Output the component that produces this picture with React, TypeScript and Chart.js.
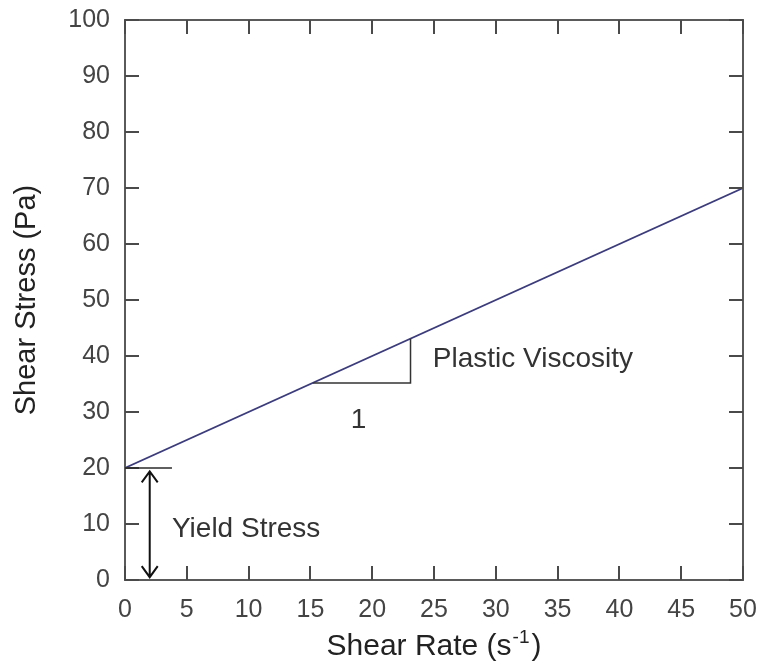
import React, { useEffect, useRef } from "react";
import { Chart, registerables } from "chart.js";

Chart.register(...registerables);

// ---- data ----
const shearRate = [0, 50]; // s^-1
const shearStress = [20, 70]; // Pa

const xMin = 0;
const xMax = 50;
const xStep = 5;
const yMin = 0;
const yMax = 100;
const yStep = 10;

// ---- annotations (data units) ----
const yieldStressValue = 20;
const yieldLineEndX = 3.8;
const yieldArrowX = 2;
const yieldArrowTop = 19.4;
const yieldArrowBottom = 0.5;
const slopeTriangleX = [15.2, 23.1, 23.1];
const slopeTriangleY = [35.2, 35.2, 43.1];
const plasticLabelPos = [24.9, 38.0];
const oneLabelPos = [18.9, 27.1];
const yieldLabelPos = [3.8, 7.7];

const FONT = '"Liberation Sans", Arial, Helvetica, sans-serif';

const overlayPlugin = {
  id: "overlay",
  afterDraw(chart: any) {
    const ctx = chart.ctx;
    const xs = chart.scales.x;
    const ys = chart.scales.y;
    const a = chart.chartArea;
    ctx.save();

    // frame
    ctx.strokeStyle = "#5a5a5a";
    ctx.lineWidth = 2;
    ctx.strokeRect(a.left, a.top, a.right - a.left, a.bottom - a.top);

    // inward ticks on all sides
    const TL = 14;
    ctx.lineWidth = 2;
    ctx.strokeStyle = "#4a4a4a";
    ctx.beginPath();
    xs.ticks.forEach((t: any) => {
      const px = Math.round(xs.getPixelForValue(t.value));
      ctx.moveTo(px, a.bottom);
      ctx.lineTo(px, a.bottom - TL);
      ctx.moveTo(px, a.top);
      ctx.lineTo(px, a.top + TL);
    });
    ys.ticks.forEach((t: any) => {
      const py = Math.round(ys.getPixelForValue(t.value));
      ctx.moveTo(a.left, py);
      ctx.lineTo(a.left + TL, py);
      ctx.moveTo(a.right, py);
      ctx.lineTo(a.right - TL, py);
    });
    ctx.stroke();

    // yield stress horizontal line
    ctx.strokeStyle = "#2a2a2a";
    ctx.lineWidth = 1.5;
    ctx.beginPath();
    ctx.moveTo(xs.getPixelForValue(0), ys.getPixelForValue(yieldStressValue));
    ctx.lineTo(xs.getPixelForValue(yieldLineEndX), ys.getPixelForValue(yieldStressValue));
    ctx.stroke();

    // double-headed arrow
    const ax = xs.getPixelForValue(yieldArrowX);
    const aTop = ys.getPixelForValue(yieldArrowTop);
    const aBot = ys.getPixelForValue(yieldArrowBottom);
    ctx.strokeStyle = "#111";
    ctx.lineWidth = 2;
    ctx.beginPath();
    ctx.moveTo(ax, aTop);
    ctx.lineTo(ax, aBot);
    ctx.moveTo(ax - 8, aTop + 11);
    ctx.lineTo(ax, aTop);
    ctx.lineTo(ax + 8, aTop + 11);
    ctx.moveTo(ax - 8, aBot - 11);
    ctx.lineTo(ax, aBot);
    ctx.lineTo(ax + 8, aBot - 11);
    ctx.stroke();

    // slope triangle
    ctx.strokeStyle = "#333";
    ctx.lineWidth = 1.5;
    ctx.beginPath();
    slopeTriangleX.forEach((vx, i) => {
      const px = xs.getPixelForValue(vx);
      const py = ys.getPixelForValue(slopeTriangleY[i]);
      if (i === 0) ctx.moveTo(px, py);
      else ctx.lineTo(px, py);
    });
    ctx.stroke();

    // annotation texts
    ctx.fillStyle = "#333";
    ctx.font = `28px ${FONT}`;
    ctx.textBaseline = "alphabetic";
    ctx.textAlign = "left";
    ctx.fillText(
      "Plastic Viscosity",
      xs.getPixelForValue(plasticLabelPos[0]),
      ys.getPixelForValue(plasticLabelPos[1])
    );
    ctx.fillText(
      "Yield Stress",
      xs.getPixelForValue(yieldLabelPos[0]),
      ys.getPixelForValue(yieldLabelPos[1])
    );
    ctx.textAlign = "center";
    ctx.fillText("1", xs.getPixelForValue(oneLabelPos[0]), ys.getPixelForValue(oneLabelPos[1]));

    // x-axis title with superscript
    ctx.fillStyle = "#222";
    const mainFont = `30px ${FONT}`;
    const supFont = `19px ${FONT}`;
    const p1 = "Shear Rate (s";
    const sup = "-1";
    const p3 = ")";
    ctx.font = mainFont;
    const w1 = ctx.measureText(p1).width;
    const w3 = ctx.measureText(p3).width;
    ctx.font = supFont;
    const w2 = ctx.measureText(sup).width + 3;
    const total = w1 + w2 + w3;
    const cx = (a.left + a.right) / 2;
    const baseY = a.bottom + 75;
    const x0 = cx - total / 2;
    ctx.textAlign = "left";
    ctx.font = mainFont;
    ctx.fillText(p1, x0, baseY);
    ctx.font = supFont;
    ctx.fillText(sup, x0 + w1 + 1, baseY - 12);
    ctx.font = mainFont;
    ctx.fillText(p3, x0 + w1 + w2, baseY);

    ctx.restore();
  },
};

const zeroPadding = (s: any) => {
  s.paddingTop = 0;
  s.paddingBottom = 0;
  s.paddingLeft = 0;
  s.paddingRight = 0;
};

export default function App() {
  const canvasRef = useRef<HTMLCanvasElement | null>(null);

  useEffect(() => {
    if (!canvasRef.current) return;
    const points = shearRate.map((x, i) => ({ x, y: shearStress[i] }));
    const chart = new Chart(canvasRef.current, {
      type: "scatter",
      data: {
        datasets: [
          {
            data: points,
            showLine: true,
            borderColor: "#3c3c7c",
            borderWidth: 1.6,
            pointRadius: 0,
            fill: false,
          },
        ],
      },
      options: {
        responsive: false,
        animation: false,
        devicePixelRatio: 1,
        layout: { padding: { top: 20, right: 19, left: 0, bottom: 0 } },
        plugins: {
          legend: { display: false },
          tooltip: { enabled: false },
        },
        scales: {
          x: {
            type: "linear",
            min: xMin,
            max: xMax,
            afterFit: (s: any) => {
              s.height = 86;
              zeroPadding(s);
            },
            ticks: {
              stepSize: xStep,
              color: "#444",
              font: { family: FONT, size: 25 },
              padding: 15,
              maxRotation: 0,
            },
            grid: { display: false, drawTicks: false },
            border: { display: false },
            title: { display: false },
          },
          y: {
            type: "linear",
            min: yMin,
            max: yMax,
            afterFit: (s: any) => {
              s.width = 125;
              zeroPadding(s);
            },
            ticks: {
              stepSize: yStep,
              color: "#444",
              font: { family: FONT, size: 25 },
              padding: 15,
            },
            grid: { display: false, drawTicks: false },
            border: { display: false },
            title: {
              display: true,
              text: "Shear Stress (Pa)",
              color: "#222",
              font: { family: FONT, size: 29 },
              padding: { top: 10, bottom: 0 },
            },
          },
        },
      },
      plugins: [overlayPlugin],
    });
    return () => chart.destroy();
  }, []);

  return (
    <div style={{ position: "absolute", left: 0, top: 0, width: 762, height: 666, background: "#fff" }}>
      <canvas ref={canvasRef} width={762} height={666} />
    </div>
  );
}
